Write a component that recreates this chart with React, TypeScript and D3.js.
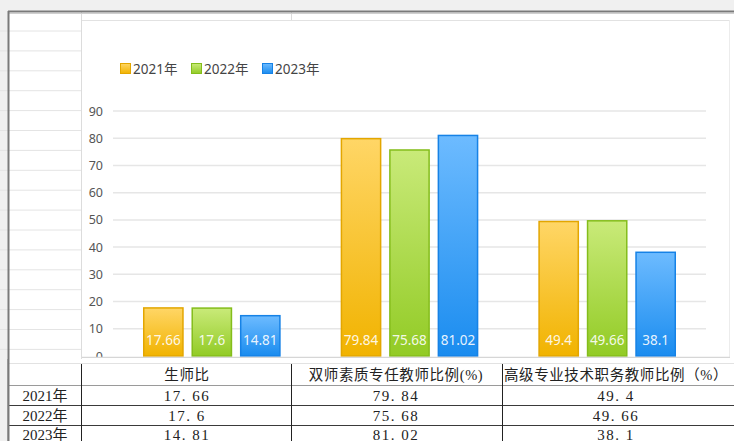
import * as React from "react";
import * as d3 from "d3";

// chart data
const categories = ["生师比", "双师素质专任教师比例(%)", "高级专业技术职务教师比例（%）"];
const years = ["2021年", "2022年", "2023年"];
const values2021 = [17.66, 79.84, 49.4];
const values2022 = [17.6, 75.68, 49.66];
const values2023 = [14.81, 81.02, 38.1];
const yTicks = [0, 10, 20, 30, 40, 50, 60, 70, 80, 90];

const series = [values2021, values2022, values2023];
const colors = [
  { top: "#ffd666", bottom: "#f1b300", stroke: "#e3a600" },
  { top: "#c9ea79", bottom: "#92cb25", stroke: "#84bd1b" },
  { top: "#6dbbff", bottom: "#1a8cef", stroke: "#1682e6" },
];

const W = 734;
const H = 441;

export default function App() {
  const x0 = d3.scaleBand<number>().domain(d3.range(categories.length)).range([113, 706]).padding(0);
  const x1 = d3
    .scaleBand<number>()
    .domain(d3.range(years.length))
    .range([30, x0.bandwidth() - 30])
    .paddingInner(0.16);
  const y = d3.scaleLinear().domain([0, 90]).range([356, 111]);

  const sheetRows = d3.range(31, 360, 19.9);
  const tableRows = [385, 405, 425];
  const tableCols = [81, 291, 502];
  const colCenters = [45, 187, 396, 616];
  const rowCenters = [375, 396, 416, 435];

  const fmt = (v: number) => String(v);

  return (
    <svg
      width={W}
      height={H}
      style={{ position: "absolute", left: 0, top: 0, display: "block", background: "#f0f0f0" }}
    >
      <defs>
        {colors.map((c, i) => (
          <linearGradient key={i} id={"g" + i} x1="0" y1="0" x2="0" y2="1">
            <stop offset="0%" stopColor={c.top} />
            <stop offset="100%" stopColor={c.bottom} />
          </linearGradient>
        ))}
        <clipPath id="chartClip">
          <rect x={82} y={20} width={648} height={338} />
        </clipPath>
      </defs>

      {/* sheet area */}
      <rect x={9} y={12} width={W - 9} height={H - 12} fill="#fff" />
      {sheetRows.map((r, i) => (
        <line key={i} x1={0} x2={82} y1={r} y2={r} stroke="#e4e4e4" />
      ))}
      <line x1={81.5} x2={81.5} y1={12} y2={363} stroke="#dcdcdc" />
      <line x1={291.5} x2={291.5} y1={12} y2={20} stroke="#dcdcdc" />
      <line x1={9} x2={W} y1={13.5} y2={13.5} stroke="#cfcfcf" />
      <line x1={8} x2={W} y1={11.5} y2={11.5} stroke="#7a7a7a" strokeWidth={2} />
      <line x1={8.5} x2={8.5} y1={11} y2={H} stroke="#7a7a7a" strokeWidth={2} />

      {/* chart object */}
      <g clipPath="url(#chartClip)">
        <rect x={82} y={20} width={648} height={340} fill="#fff" />
        <line x1={82} x2={730} y1={20.5} y2={20.5} stroke="#e2e2e2" />
        <line x1={729.5} x2={729.5} y1={20} y2={360} stroke="#ececec" />

        {/* legend */}
        {years.map((yr, i) => {
          const lx = [120, 191, 262][i];
          return (
            <g key={yr} transform={`translate(${lx},63)`}>
              <rect x={0.5} y={0.5} width={10} height={10} fill={`url(#g${i})`} stroke={colors[i].stroke} />
              <text x={13} y={10.5} fontSize={13.5} fill="#444" fontFamily="'Noto Sans', 'Noto Sans CJK SC', sans-serif">
                {yr}
              </text>
            </g>
          );
        })}

        {/* grid and y axis */}
        {yTicks.map((t) => (
          <g key={t}>
            {t > 0 && <line x1={113} x2={706} y1={y(t)} y2={y(t)} stroke="#e6e6e6" strokeWidth={1.5} />}
            <text
              x={103}
              y={y(t)}
              dy="0.36em"
              textAnchor="end"
              fontSize={12.5}
              fill="#555"
              fontFamily="'Noto Sans', sans-serif"
            >
              {t}
            </text>
          </g>
        ))}

        {/* bars */}
        {categories.map((cat, ci) => (
          <g key={cat} transform={`translate(${x0(ci)},0)`}>
            {series.map((vals, si) => {
              const bx = x1(si)!;
              const bw = x1.bandwidth();
              const v = vals[ci];
              return (
                <g key={si}>
                  <rect
                    x={bx + 0.75}
                    y={y(v)}
                    width={bw - 1.5}
                    height={y(0) - y(v)}
                    fill={`url(#g${si})`}
                    stroke={colors[si].stroke}
                    strokeWidth={1.5}
                  />
                  <text
                    x={bx + bw / 2}
                    y={345}
                    textAnchor="middle"
                    fontSize={13.5}
                    fill="#fff"
                    fillOpacity={0.9}
                    fontFamily="'Noto Sans', sans-serif"
                  >
                    {fmt(v)}
                  </text>
                </g>
              );
            })}
          </g>
        ))}
        <line x1={82} x2={730} y1={357.5} y2={357.5} stroke="#d6d6d6" strokeWidth={1.5} />
      </g>

      {/* data table below the chart */}
      <rect x={9} y={359} width={W - 9} height={H - 359} fill="#fff" />
      <line x1={9} x2={W} y1={363.5} y2={363.5} stroke="#e2e2e2" />
      <line x1={9} x2={W} y1={385.5} y2={385.5} stroke="#9a9a9a" />
      {tableRows.slice(1).map((r) => (
        <line key={r} x1={9} x2={W} y1={r + 0.5} y2={r + 0.5} stroke="#3a3a3a" />
      ))}
      {tableCols.map((c) => (
        <line key={c} x1={c + 0.5} x2={c + 0.5} y1={364} y2={H} stroke="#222" />
      ))}
      <line x1={8.5} x2={8.5} y1={359} y2={H} stroke="#7a7a7a" strokeWidth={2} />

      <g fontFamily="'Liberation Serif', 'Noto Sans CJK SC', serif" fill="#222" fontSize={15} textAnchor="middle">
        {categories.map((cat, ci) => (
          <text key={cat} x={colCenters[ci + 1]} y={rowCenters[0]} dy="0.36em" fontSize={14.5} letterSpacing={0.6}>
            {cat}
          </text>
        ))}
        {years.map((yr, si) => (
          <g key={yr}>
            <text x={colCenters[0]} y={rowCenters[si + 1]} dy="0.36em">
              {yr}
            </text>
            {series[si].map((v, ci) => (
              <text key={ci} x={colCenters[ci + 1]} y={rowCenters[si + 1]} dy="0.36em" letterSpacing={1.5}>
                {fmt(v).replace(".", ". ")}
              </text>
            ))}
          </g>
        ))}
      </g>
    </svg>
  );
}
